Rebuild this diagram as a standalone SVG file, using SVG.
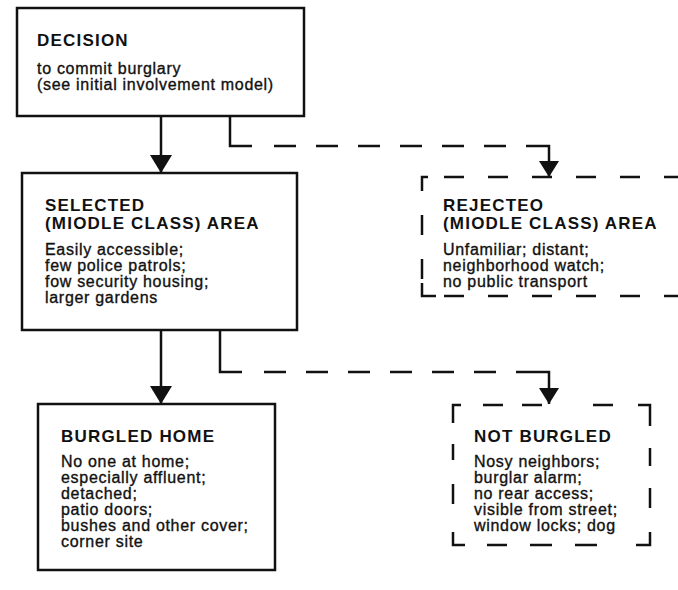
<svg xmlns="http://www.w3.org/2000/svg" width="678" height="590" viewBox="0 0 678 590">
<style>
  .box { fill: #fff; stroke: #111; stroke-width: 2.5; }
  .dbox { fill: none; stroke: #111; stroke-width: 2.5; stroke-dasharray: 20 24; }
  .corner { fill: none; stroke: #111; stroke-width: 2.5; }
  .head { font-family: "Liberation Sans", Arial, sans-serif; font-weight: bold; font-size: 17px; letter-spacing: 1.2px; fill: #111; }
  .body { font-family: "Liberation Sans", Arial, sans-serif; font-size: 16px; letter-spacing: 0.7px; fill: #111; stroke: #111; stroke-width: 0.35; }
  .solid { fill: none; stroke: #111; stroke-width: 2.5; }
  .dash { fill: none; stroke: #111; stroke-width: 2.5; stroke-dasharray: 22 20; }
</style>
<defs>
  <marker id="ah" viewBox="0 0 18 22" refX="18" refY="11" markerWidth="18" markerHeight="22" markerUnits="userSpaceOnUse" orient="auto">
    <path d="M0,0 L18,11 L0,22 z" fill="#111"/>
  </marker>
  <marker id="ahs" viewBox="0 0 16 20" refX="16" refY="10" markerWidth="16" markerHeight="20" markerUnits="userSpaceOnUse" orient="auto">
    <path d="M0,0 L16,10 L0,20 z" fill="#111"/>
  </marker>
</defs>
<rect width="678" height="590" fill="#fff"/>

<g id="connectors">
  <path class="solid" d="M161,116 V173" marker-end="url(#ah)"/>
  <path class="solid" d="M230,116 V146 H252"/>
  <path class="dash" d="M274,146 H506"/>
  <path class="solid" d="M526,146 H549 V177" marker-end="url(#ahs)"/>
  <path class="solid" d="M161,330 V404" marker-end="url(#ah)"/>
  <path class="solid" d="M220,330 V372 H242"/>
  <path class="dash" d="M264,372 H496"/>
  <path class="solid" d="M516,372 H549 V404" marker-end="url(#ahs)"/>
</g>

<g id="decision">
  <rect class="box" x="17" y="8" width="287" height="108"/>
  <text class="head" x="37" y="46">DECISION</text>
  <text class="body" x="37" y="74">to commit burglary</text>
  <text class="body" x="37" y="90">(see initial involvement model)</text>
</g>

<g id="selected">
  <rect class="box" x="22" y="173" width="275" height="157"/>
  <text class="head" x="45" y="211">SELECTED</text>
  <text class="head" x="45" y="229">(MIODLE CLASS) AREA</text>
  <text class="body" x="45" y="255">Easily accessible;</text>
  <text class="body" x="45" y="271">few police patrols;</text>
  <text class="body" x="45" y="287">fow security housing;</text>
  <text class="body" x="45" y="303">larger gardens</text>
</g>

<g id="rejected">
  <path class="dbox" d="M444,177 H700"/>
  <path class="dbox" d="M422,215 V284"/>
  <path class="dbox" d="M444,296 H700"/>
  <path class="corner" d="M428,177 H422 V191"/>
  <path class="corner" d="M422,283 V296 H436"/>
  <text class="head" x="443" y="211">REJECTEO</text>
  <text class="head" x="443" y="229">(MIODLE CLASS) AREA</text>
  <text class="body" x="443" y="255">Unfamiliar; distant;</text>
  <text class="body" x="443" y="271">neighborhood watch;</text>
  <text class="body" x="443" y="287">no public transport</text>
</g>

<g id="burgled">
  <rect class="box" x="38" y="404" width="237" height="166" stroke-width="3"/>
  <text class="head" x="61" y="442">BURGLED HOME</text>
  <text class="body" x="61" y="467">No one at home;</text>
  <text class="body" x="61" y="483">especially affluent;</text>
  <text class="body" x="61" y="499">detached;</text>
  <text class="body" x="61" y="515">patio doors;</text>
  <text class="body" x="61" y="531">bushes and other cover;</text>
  <text class="body" x="61" y="547">corner site</text>
</g>

<g id="not-burgled">
  <path class="corner" d="M461,405 H453 V423"/>
  <path class="corner" d="M638,405 H650 V426"/>
  <path class="corner" d="M453,532 V545 H465"/>
  <path class="corner" d="M636,545 H650 V532"/>
  <path class="corner" d="M483,405 H503 M522,405 H542 M593,405 H613"/>
  <path class="corner" d="M453,444 V460 M453,484 V504 M650,448 V466 M650,488 V508"/>
  <path class="corner" d="M487,545 H507 M530,545 H552 M575,545 H597"/>
  <text class="head" x="474" y="442">NOT BURGLED</text>
  <text class="body" x="474" y="467">Nosy neighbors;</text>
  <text class="body" x="474" y="483">burglar alarm;</text>
  <text class="body" x="474" y="499">no rear access;</text>
  <text class="body" x="474" y="515">visible from street;</text>
  <text class="body" x="474" y="531">window locks; dog</text>
</g>
</svg>
